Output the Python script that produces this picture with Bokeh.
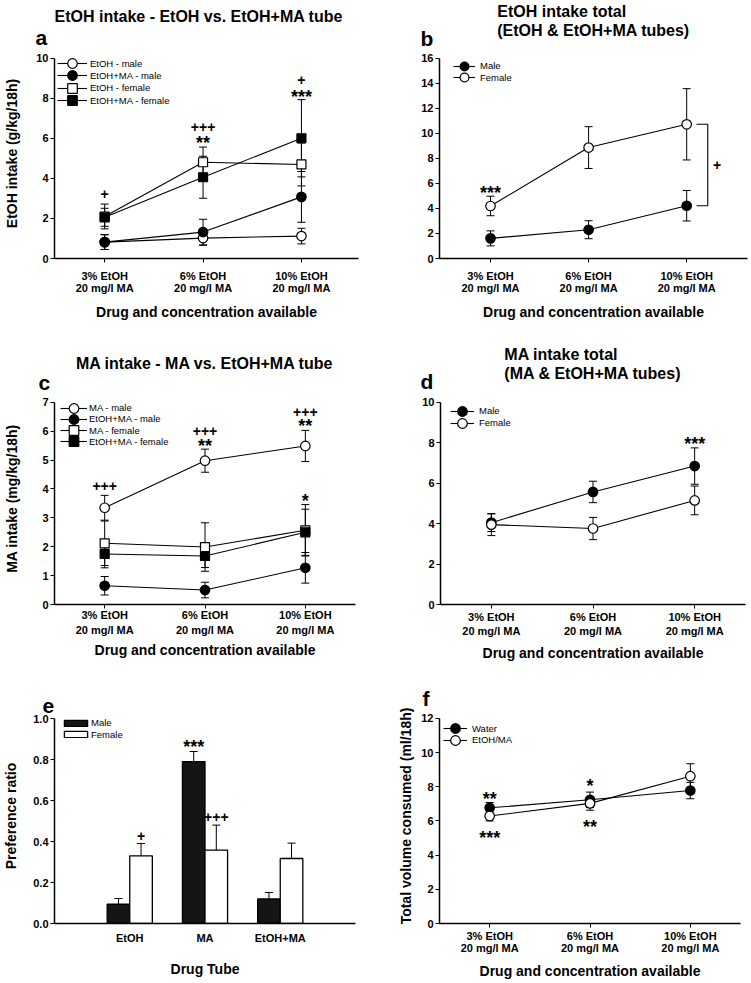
from bokeh.plotting import figure
from bokeh.models import (Range1d, FixedTicker, Whisker, TeeHead, ColumnDataSource, Label, Title,
                          PrintfTickFormatter, Legend, LegendItem)
from bokeh.layouts import row, column
from bokeh.embed import file_html
from bokeh.resources import INLINE
from bokeh.transform import dodge

FONT = "Liberation Sans"

# ---------------- data ----------------
conc_x = [1, 2, 3]
conc_labels = ["3% EtOH\n20 mg/l MA", "6% EtOH\n20 mg/l MA", "10% EtOH\n20 mg/l MA"]

# panel a: EtOH intake (g/kg/18h)
a_etoh_male = [0.82, 1.02, 1.12]
a_etoh_male_sem = [0.37, 0.36, 0.39]
a_mix_male = [0.82, 1.32, 3.08]
a_mix_male_sem = [0.37, 0.64, 1.27]
a_etoh_female = [2.10, 4.81, 4.70]
a_etoh_female_sem = [0.62, 0.76, 1.07]
a_mix_female = [2.06, 4.06, 6.01]
a_mix_female_sem = [0.45, 1.05, 1.93]
a_yticks = [0, 2, 4, 6, 8, 10]
a_sig_x = [1, 2, 2, 3, 3]
a_sig_y = [3.21, 6.59, 5.97, 8.93, 8.27]
a_sig_t = ["+", "+++", "**", "+", "***"]

# panel b: EtOH intake total
b_male = [1.61, 2.30, 4.22]
b_male_sem = [0.60, 0.72, 1.22]
b_female = [4.20, 8.87, 10.73]
b_female_sem = [0.78, 1.67, 2.85]
b_yticks = [0, 2, 4, 6, 8, 10, 12, 14, 16]
b_sig_x = [1, 3.31]
b_sig_y = [5.54, 7.46]
b_sig_t = ["***", "+"]

# panel c: MA intake (mg/kg/18h)
c_ma_male = [3.35, 4.98, 5.49]
c_ma_male_sem = [0.43, 0.40, 0.54]
c_mix_male = [0.65, 0.50, 1.27]
c_mix_male_sem = [0.32, 0.27, 0.53]
c_ma_female = [2.12, 1.99, 2.57]
c_ma_female_sem = [0.77, 0.84, 0.89]
c_mix_female = [1.75, 1.68, 2.50]
c_mix_female_sem = [0.48, 0.40, 0.80]
c_yticks = [0, 1, 2, 3, 4, 5, 6, 7]
c_sig_x = [1, 2, 2, 3, 3, 3]
c_sig_y = [4.11, 6.00, 5.64, 6.68, 6.32, 3.71]
c_sig_t = ["+++", "+++", "**", "+++", "**", "*"]

# panel d: MA intake total
d_male = [4.05, 5.57, 6.85]
d_male_sem = [0.44, 0.53, 0.90]
d_female = [3.95, 3.76, 5.15]
d_female_sem = [0.54, 0.55, 0.71]
d_yticks = [0, 2, 4, 6, 8, 10]
d_sig_x = [3]
d_sig_y = [8.12]
d_sig_t = ["***"]

# panel e: preference ratio
tubes = ["EtOH", "MA", "EtOH+MA"]
tube_x = [1, 2, 3]
e_male = [0.094, 0.79, 0.12]
e_male_sem = [0.028, 0.049, 0.031]
e_female = [0.33, 0.358, 0.317]
e_female_sem = [0.06, 0.122, 0.075]
e_yticks = [0, 0.2, 0.4, 0.6, 0.8, 1.0]
e_sig_x = [1.15, 1.85, 2.15]
e_sig_y = [0.428, 0.88, 0.52]
e_sig_t = ["+", "***", "+++"]

# panel f: total volume consumed (ml/18h)
f_water = [6.77, 7.24, 7.78]
f_water_sem = [0.31, 0.45, 0.48]
f_etohma = [6.29, 7.03, 8.62]
f_etohma_sem = [0.29, 0.40, 0.73]
f_yticks = [0, 2, 4, 6, 8, 10, 12]
f_sig_x = [1, 1, 2, 2]
f_sig_y = [7.51, 5.22, 8.28, 5.90]
f_sig_t = ["**", "***", "*", "**"]

# ---------------- layout geometry (page pixels) ----------------
E = 10  # invisible frame room above the top of each y axis (for legends)
GEOM = {
    "a": dict(ox=0, oy=0, w=375, h=322, bl=54, br=17, at=58, bb=62, xr=(0.49, 3.58), ymax=10),
    "b": dict(ox=375, oy=0, w=376, h=322, bl=64, br=4, at=58, bb=62, xr=(0.48, 3.62), ymax=16),
    "c": dict(ox=0, oy=322, w=375, h=349, bl=54, br=20, at=402, bb=64, xr=(0.5, 3.5), ymax=7),
    "d": dict(ox=375, oy=322, w=376, h=349, bl=65, br=6, at=400, bb=67, xr=(0.5, 3.5), ymax=10),
    "e": dict(ox=0, oy=671, w=375, h=311, bl=52, br=20, at=718, bb=59, xr=(0.0, 4.0), ymax=1.0),
    "f": dict(ox=375, oy=671, w=376, h=311, bl=64, br=11, at=717, bb=59, xr=(0.5, 3.5), ymax=12),
}


def make_fig(key, xticks, xlabels, yticks):
    g = GEOM[key]
    at_rel = g["at"] - g["oy"]
    fb_rel = g["h"] - g["bb"]
    axis_h = fb_rel - at_rel
    y_end = g["ymax"] * (axis_h + E) / axis_h
    p = figure(width=g["w"], height=g["h"], x_range=Range1d(*g["xr"]), y_range=Range1d(0, y_end),
               output_backend="svg", toolbar_location=None,
               min_border_left=g["bl"], min_border_right=g["br"],
               min_border_top=at_rel - E, min_border_bottom=g["bb"])
    p.outline_line_color = None
    p.xgrid.visible = False
    p.ygrid.visible = False
    p.xaxis.ticker = FixedTicker(ticks=xticks)
    p.xaxis.major_label_overrides = {t: l for t, l in zip(xticks, xlabels)}
    p.yaxis.ticker = FixedTicker(ticks=yticks)
    p.yaxis.bounds = (0, g["ymax"])
    for ax in p.xaxis + p.yaxis:
        ax.axis_line_width = 1.5
        ax.axis_line_color = "black"
        ax.major_tick_in = 0
        ax.major_tick_out = 4
        ax.major_tick_line_color = "black"
        ax.major_tick_line_width = 1
        ax.minor_tick_line_color = None
        ax.major_label_text_font = FONT
        ax.major_label_text_font_style = "bold"
        ax.major_label_text_font_size = "11px"
        ax.major_label_text_color = "black"
        ax.axis_label_text_font = FONT
        ax.axis_label_text_font_style = "bold"
        ax.axis_label_text_font_size = "14px"
        ax.axis_label_text_color = "black"
    p.yaxis.major_label_standoff = 2
    return p


def add_titles(p, letter, letter_off, letter_s, main=None, main_align="center", main_off=0, main_s=0):
    # the figure's own title is laid out outermost; the added one sits next to the frame
    if main is None:
        t = p.title
    else:
        t = Title()
        p.add_layout(t, "above")
        m = p.title
        m.text = main
        m.align = main_align
        m.offset = main_off
        m.standoff = main_s
        m.vertical_align = "middle"
        m.text_font = FONT
        m.text_font_size = "16px"
        m.text_font_style = "bold"
        m.text_color = "black"
        m.text_line_height = 1.15
    t.text = letter
    t.align = "left"
    t.offset = letter_off
    t.standoff = letter_s
    t.vertical_align = "middle"
    t.text_font = FONT
    t.text_font_size = "21px"
    t.text_font_style = "bold"
    t.text_color = "black"


def add_series(p, xs, series):
    rends = {}
    for ys, sems, marker, fill, label in series:
        src = ColumnDataSource(dict(x=xs, up=[v + e for v, e in zip(ys, sems)],
                                    lo=[v - e for v, e in zip(ys, sems)]))
        p.add_layout(Whisker(source=src, base="x", upper="up", lower="lo", level="underlay",
                             line_color="black", line_width=1,
                             upper_head=TeeHead(size=8, line_color="black", line_width=1),
                             lower_head=TeeHead(size=8, line_color="black", line_width=1)))
    for ys, sems, marker, fill, label in series:
        rends[label] = [p.line(xs, ys, line_color="black", line_width=1.1)]
    for ys, sems, marker, fill, label in series:
        rends[label].append(p.scatter(xs, ys, marker=marker, size=9.5 if marker == "circle" else 9,
                                      fill_color=fill, line_color="black", line_width=1.2))
    return [(label, rends[label]) for _, _, _, _, label in series]


def add_legend(p, key, items, vx, c, gw, step, standoff, gh=24):
    # one small legend per entry so that entries can sit closer than the glyph box height
    g = GEOM[key]
    at_rel = g["at"] - g["oy"]
    fb_rel = g["h"] - g["bb"]
    for i, (label, rends) in enumerate(items):
        center = at_rel + c + 1.5 + i * step
        top = center - gh / 2.0
        lg = Legend(items=[LegendItem(label=label, renderers=rends)],
                    location=(vx, fb_rel - top - gh),
                    glyph_width=gw, glyph_height=gh, label_height=gh, spacing=0,
                    padding=0, margin=0, border_line_color=None, background_fill_alpha=0,
                    label_text_font=FONT, label_text_font_size="9.5px", label_text_color="black",
                    label_standoff=standoff)
        p.add_layout(lg)


def sig_labels(p, xs, ys, ts):
    for x, y, t in zip(xs, ys, ts):
        star = "*" in t
        p.add_layout(Label(x=x, y=y, text=t, text_font=FONT, text_font_style="bold",
                           text_font_size="18px" if star else "14px", text_align="center",
                           text_baseline="middle", text_color="black", y_offset=-4 if star else 0))


XLAB = "Drug and concentration available"

# ---------------- panel a ----------------
pa = make_fig("a", conc_x, conc_labels, a_yticks)
items = add_series(pa, conc_x, [
    (a_etoh_male, a_etoh_male_sem, "circle", "white", "EtOH - male"),
    (a_mix_male, a_mix_male_sem, "circle", "black", "EtOH+MA - male"),
    (a_etoh_female, a_etoh_female_sem, "square", "white", "EtOH - female"),
    (a_mix_female, a_mix_female_sem, "square", "black", "EtOH+MA - female"),
])
add_legend(pa, "a", items, 3, 5.6, 30, 12.3, 3)
sig_labels(pa, a_sig_x, a_sig_y, a_sig_t)
pa.xaxis.axis_label = XLAB
pa.yaxis.axis_label = "EtOH intake (g/kg/18h)"
pa.xaxis.major_label_text_line_height = 1.0
pa.xaxis.major_label_standoff = 7
pa.xaxis.axis_label_standoff = 7
pa.yaxis.axis_label_standoff = 13
add_titles(pa, "a", -19, -3, "EtOH intake - EtOH vs. EtOH+MA tube", "left", 0, 1)

# ---------------- panel b ----------------
pb = make_fig("b", conc_x, conc_labels, b_yticks)
items = add_series(pb, conc_x, [
    (b_male, b_male_sem, "circle", "black", "Male"),
    (b_female, b_female_sem, "circle", "white", "Female"),
])
pb.line([3.10, 3.215, 3.215, 3.10], [b_female[2], b_female[2], b_male[2], b_male[2]],
        line_color="black", line_width=1.1)
add_legend(pb, "b", items, 14, 8, 22, 11.7, 5)
sig_labels(pb, b_sig_x, b_sig_y, b_sig_t)
pb.xaxis.axis_label = XLAB
pb.xaxis.major_label_text_line_height = 1.0
pb.xaxis.major_label_standoff = 7
pb.xaxis.axis_label_standoff = 7
add_titles(pb, "b", -19, -5, "EtOH intake total\n(EtOH & EtOH+MA tubes)", "center", 0, -24)

# ---------------- panel c ----------------
pc = make_fig("c", conc_x, conc_labels, c_yticks)
items = add_series(pc, conc_x, [
    (c_ma_male, c_ma_male_sem, "circle", "white", "MA - male"),
    (c_mix_male, c_mix_male_sem, "circle", "black", "EtOH+MA - male"),
    (c_ma_female, c_ma_female_sem, "square", "white", "MA - female"),
    (c_mix_female, c_mix_female_sem, "square", "black", "EtOH+MA - female"),
])
add_legend(pc, "c", items, 6, 7, 27, 11.3, 2)
sig_labels(pc, c_sig_x, c_sig_y, c_sig_t)
pc.xaxis.axis_label = XLAB
pc.yaxis.axis_label = "MA intake (mg/kg/18h)"
pc.xaxis.major_label_text_line_height = 1.25
pc.xaxis.major_label_standoff = 0
pc.xaxis.axis_label_standoff = 3
pc.yaxis.axis_label_standoff = 19
add_titles(pc, "c", -16, -5, "MA intake - MA vs. EtOH+MA tube", "center", 0, -1)

# ---------------- panel d ----------------
pd_ = make_fig("d", conc_x, conc_labels, d_yticks)
items = add_series(pd_, conc_x, [
    (d_male, d_male_sem, "circle", "black", "Male"),
    (d_female, d_female_sem, "circle", "white", "Female"),
])
add_legend(pd_, "d", items, 10, 9.3, 24, 11.7, 5)
sig_labels(pd_, d_sig_x, d_sig_y, d_sig_t)
pd_.xaxis.axis_label = XLAB
pd_.xaxis.major_label_text_line_height = 1.17
pd_.xaxis.major_label_standoff = 2
pd_.xaxis.axis_label_standoff = 5
add_titles(pd_, "d", -20, -2, "MA intake total\n(MA & EtOH+MA tubes)", "center", 0, -28)

# ---------------- panel e ----------------
pe = make_fig("e", tube_x, tubes, e_yticks)
pe.yaxis.formatter = PrintfTickFormatter(format="%.1f")
esrc = ColumnDataSource(dict(
    x=tube_x, male=e_male, female=e_female,
    male_up=[v + e for v, e in zip(e_male, e_male_sem)],
    female_up=[v + e for v, e in zip(e_female, e_female_sem)],
))
for val, up, off in (("male", "male_up", -0.15), ("female", "female_up", 0.15)):
    pe.add_layout(Whisker(source=esrc, base=dodge("x", off), upper=up, lower=val, level="underlay",
                          line_color="black", line_width=1,
                          upper_head=TeeHead(size=8, line_color="black", line_width=1),
                          lower_head=None))
bm = pe.vbar(x=dodge("x", -0.15), top="male", width=0.3, source=esrc, fill_color="#151515",
             line_color="black", line_width=1.3)
bf = pe.vbar(x=dodge("x", 0.15), top="female", width=0.3, source=esrc, fill_color="white",
             line_color="black", line_width=1.3)
add_legend(pe, "e", [("Male", [bm]), ("Female", [bf])], 7, 4.7, 29, 11.6, 1, gh=8)
sig_labels(pe, e_sig_x, e_sig_y, e_sig_t)
pe.xaxis.major_tick_out = 0
pe.xaxis.major_label_standoff = 8
pe.xaxis.axis_label = "Drug Tube"
pe.xaxis.axis_label_standoff = 14
pe.yaxis.axis_label = "Preference ratio"
pe.yaxis.axis_label_standoff = 11
add_titles(pe, "e", -12, -10)

# ---------------- panel f ----------------
pf = make_fig("f", conc_x, conc_labels, f_yticks)
items = add_series(pf, conc_x, [
    (f_water, f_water_sem, "circle", "black", "Water"),
    (f_etohma, f_etohma_sem, "circle", "white", "EtOH/MA"),
])
add_legend(pf, "f", items, 4, 9.5, 24, 11.6, 5)
sig_labels(pf, f_sig_x, f_sig_y, f_sig_t)
pf.xaxis.axis_label = XLAB
pf.yaxis.axis_label = "Total volume consumed (ml/18h)"
pf.xaxis.major_label_text_line_height = 1.0
pf.xaxis.major_label_standoff = 2
pf.xaxis.axis_label_standoff = 6
pf.yaxis.axis_label_standoff = 4
add_titles(pf, "f", -17, -5)

layout = column(row(pa, pb), row(pc, pd_), row(pe, pf))
open("out.html", "w").write(file_html(layout, INLINE, title="Intake figure"))
